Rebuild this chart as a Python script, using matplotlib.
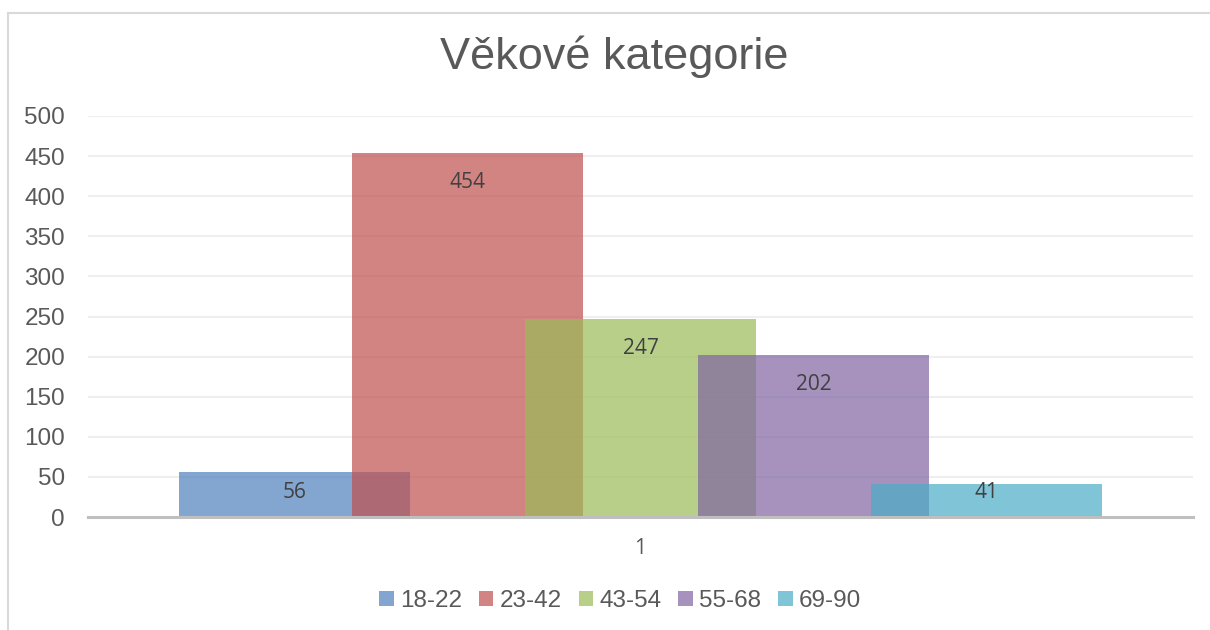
import numpy as np
import matplotlib
matplotlib.use("Agg")
import matplotlib.pyplot as plt
from matplotlib.lines import Line2D
from matplotlib.patches import Patch

# data
categories = ["18-22", "23-42", "43-54", "55-68", "69-90"]
values = [56, 454, 247, 202, 41]
colors = ["#4F81BD", "#C0504D", "#9BBB59", "#8064A2", "#4BACC6"]
x_label = "1"
title = "Věkové kategorie"

fig = plt.figure(figsize=(12.1, 6.3), dpi=100)
ax = fig.add_axes([88 / 1210, 1 - 517 / 630, (1193 - 88) / 1210, (517 - 116) / 630])

x = np.arange(len(categories))
width = 1.335
for i, (cat, v, c) in enumerate(zip(categories, values, colors)):
    ax.bar(x[i], v, width=width, color=c, alpha=0.7, zorder=2, linewidth=0)
    ly = max(v - 37, 30)
    ax.text(x[i], ly, str(v), ha="center", va="center", fontsize=15,
            family="Open Sans", color="#404040", zorder=4)

ax.set_xlim(2 - 3.194, 2 + 3.194)
ax.set_ylim(0, 500)
ax.set_yticks(np.arange(0, 501, 50))
ax.set_xticks([])
ax.grid(axis="y", color="#EFEFEF", linewidth=1.5, zorder=0)
ax.set_axisbelow(True)
for s in ["top", "right", "left", "bottom"]:
    ax.spines[s].set_visible(False)
ax.axhline(0, color="#BFBFBF", linewidth=2.2, zorder=3, clip_on=False)
ax.tick_params(axis="y", length=0, pad=16.5, labelsize=17.5, labelcolor="#595959")
for lab in ax.get_yticklabels():
    lab.set_family("Liberation Sans")

fig.text(640 / 1210, 1 - 549 / 630, x_label, ha="center", va="center",
         fontsize=15, family="Open Sans", color="#595959")
fig.text(614.5 / 1210, 1 - 57 / 630, title, ha="center", va="center",
         fontsize=32.5, family="Liberation Sans", color="#595959")

handles = [Patch(facecolor=c, alpha=0.7, edgecolor="none") for c in colors]
leg = fig.legend(handles, categories, loc="center", bbox_to_anchor=(620 / 1210, 1 - 601 / 630),
                 ncol=5, frameon=False, handlelength=0.6, handleheight=0.6,
                 handletextpad=0.25, columnspacing=0.7,
                 prop={"family": "Liberation Sans", "size": 17.5})
for t in leg.get_texts():
    t.set_color("#595959")

# chart border (left and top edges visible)
fig.add_artist(Line2D([8 / 1210, 8 / 1210], [0, 1 - 13 / 630], transform=fig.transFigure,
                      color="#D9D9D9", linewidth=1.5))
fig.add_artist(Line2D([8 / 1210, 1], [1 - 13 / 630, 1 - 13 / 630], transform=fig.transFigure,
                      color="#D9D9D9", linewidth=1.5))

fig.savefig("out.png", dpi=100)
